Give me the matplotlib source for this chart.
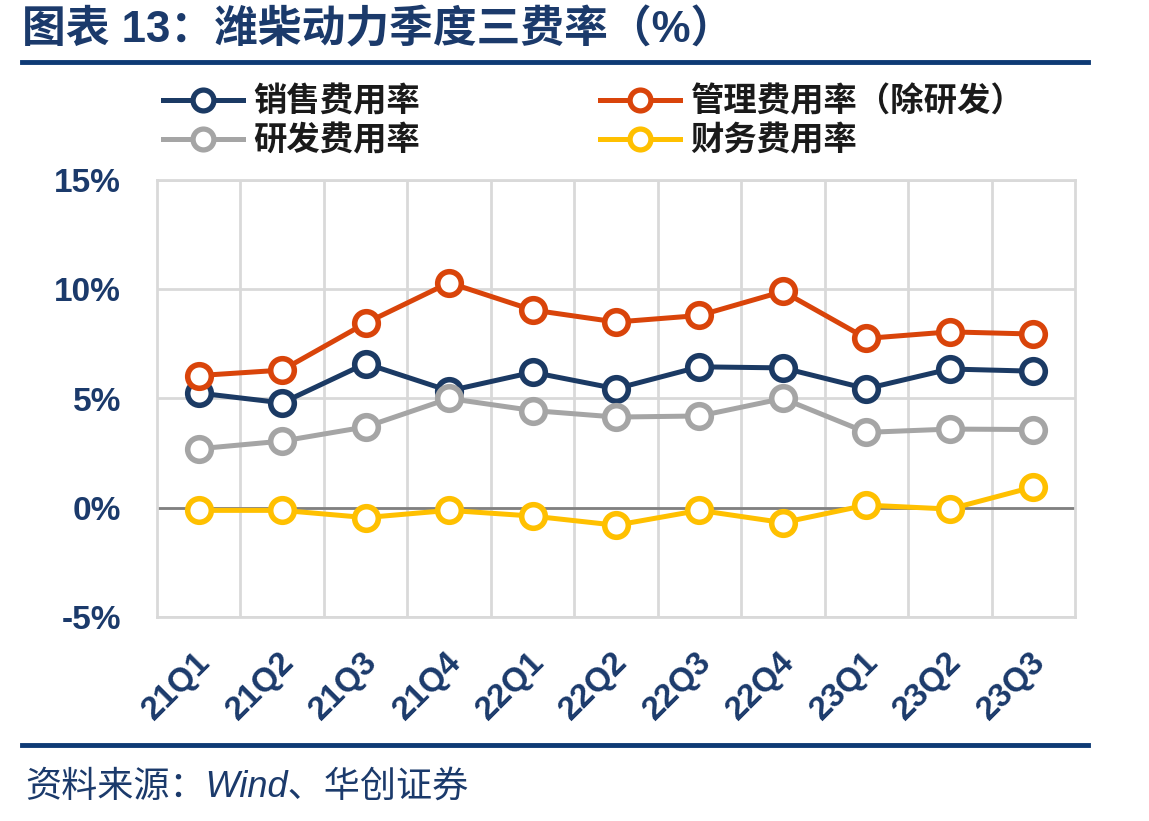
import matplotlib
matplotlib.use("Agg")
import matplotlib.pyplot as plt
import matplotlib.transforms as mtransforms
from matplotlib.lines import Line2D

plt.rcParams['font.family'] = ['Liberation Sans', 'Noto Sans CJK SC', 'DejaVu Sans']

quarters = ['21Q1', '21Q2', '21Q3', '21Q4', '22Q1', '22Q2', '22Q3', '22Q4', '23Q1', '23Q2', '23Q3']
sales_rate = [5.25, 4.80, 6.60, 5.35, 6.20, 5.45, 6.45, 6.40, 5.45, 6.35, 6.25]
admin_rate = [6.05, 6.30, 8.45, 10.30, 9.05, 8.50, 8.80, 9.90, 7.75, 8.05, 7.95]
rnd_rate = [2.70, 3.05, 3.70, 5.00, 4.45, 4.15, 4.20, 5.00, 3.45, 3.60, 3.58]
fin_rate = [-0.12, -0.12, -0.45, -0.12, -0.38, -0.80, -0.12, -0.68, 0.12, -0.06, 0.95]

series = [
    ('销售费用率', sales_rate, '#1B3A64'),
    ('管理费用率（除研发）', admin_rate, '#D9440A'),
    ('研发费用率', rnd_rate, '#A5A5A5'),
    ('财务费用率', fin_rate, '#FFC000'),
]

navy = '#1B3A6B'
grid_c = '#D9D9D9'

fig = plt.figure(figsize=(11.49, 8.21), dpi=100)
ax = fig.add_axes([157 / 1149, 1 - 617 / 821, (1075 - 157) / 1149, (617 - 180) / 821])

x = list(range(len(quarters)))
for name, vals, c in series:
    ax.plot(x, vals, color=c, lw=3.6, marker='o', ms=17, mfc='white', mec=c, mew=4,
            label=name, zorder=3)

ax.set_xlim(-0.5, len(quarters) - 0.5)
ax.set_ylim(-5, 15)
ax.set_yticks([-5, 0, 5, 10, 15])
ax.set_yticklabels(['-5%', '0%', '5%', '10%', '15%'])
ax.set_xticks(x)
ax.set_xticklabels(quarters, rotation=45, ha='right', va='center', rotation_mode='anchor')
ax.set_xticks([i + 0.5 for i in x[:-1]], minor=True)
ax.grid(which='minor', axis='x', color=grid_c, lw=2)
ax.grid(which='major', axis='y', color=grid_c, lw=2)
ax.axhline(0, color='#808080', lw=2, zorder=2)
for s in ax.spines.values():
    s.set_color(grid_c)
    s.set_linewidth(2)
ax.tick_params(axis='both', which='both', length=0, labelcolor=navy)
ax.tick_params(axis='y', pad=26, labelsize=24)
ax.tick_params(axis='x', pad=29, labelsize=24)
shift = mtransforms.ScaledTranslation(7 / 100, 0, fig.dpi_scale_trans)
for t in ax.get_xticklabels():
    t.set_fontweight('bold')
    t.set_transform(t.get_transform() + shift)
for t in ax.get_yticklabels():
    t.set_fontweight('bold')

# legend
handles = [Line2D([0], [0], color=c, lw=3.6, marker='o', ms=15, mfc='white', mec=c, mew=3.8)
           for _, _, c in series]
labels = [n for n, _, _ in series]
order = [0, 2, 1, 3]
leg = fig.legend([handles[i] for i in order], [labels[i] for i in order], ncol=2,
                 loc='upper left', bbox_to_anchor=(133 / 1149, 1 - 56 / 821),
                 frameon=False, handlelength=2.4, handletextpad=0.3, columnspacing=5.4,
                 labelspacing=0.22, prop={'size': 24, 'weight': 'bold'})
for t in leg.get_texts():
    t.set_color('#1A1A1A')

# title, rules and source
fig.text(22 / 1149, 1 - 30 / 821, '图表 13：潍柴动力季度三费率（%）', color=navy,
         fontsize=31.5, fontweight='bold', va='center', ha='left')
fig.add_artist(Line2D([22 / 1149, 1088 / 1149], [1 - 62 / 821] * 2, color='#0E3A75', lw=3.5))
fig.add_artist(Line2D([22 / 1149, 1088 / 1149], [1 - 745 / 821] * 2, color='#0E3A75', lw=3.5))
fig.text(25 / 1149, 1 - 787 / 821, '资料来源：Wind、华创证券', color=navy,
         fontsize=26, style='italic', va='center', ha='left')

fig.savefig('out.png', dpi=100)
